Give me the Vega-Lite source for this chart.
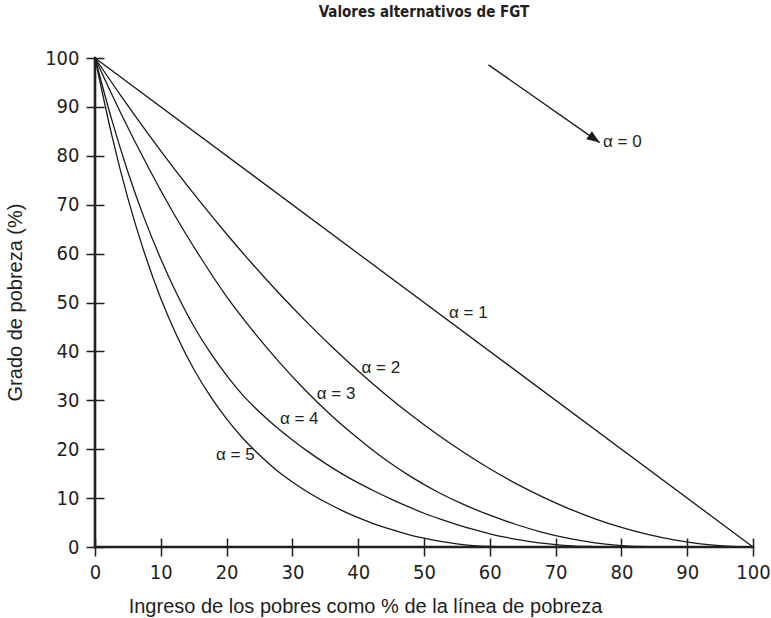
{
  "$schema": "https://vega.github.io/schema/vega-lite/v6.json",
  "width": 658,
  "height": 489,
  "autosize": {"type": "none"},
  "padding": {"left": 95, "top": 58, "right": 18, "bottom": 71},
  "background": "white",
  "title": {
    "text": "Valores alternativos de FGT",
    "font": "Liberation Sans Narrow, DejaVu Sans Condensed, sans-serif",
    "fontSize": 15,
    "fontWeight": "bold",
    "color": "#231f20",
    "anchor": "middle",
    "frame": "group",
    "offset": 28
  },
  "config": {"view": {"stroke": null}, "axis": {"grid": false}},
  "datasets": {
    "curves": [
      {"a": "1", "x": 0, "y": 100}, {"a": "1", "x": 100, "y": 0},
      {"a": "2", "x": 0, "y": 100}, {"a": "2", "x": 4, "y": 92.16}, {"a": "2", "x": 8, "y": 84.64}, {"a": "2", "x": 12, "y": 77.44}, {"a": "2", "x": 16, "y": 70.56}, {"a": "2", "x": 20, "y": 64}, {"a": "2", "x": 24, "y": 57.76}, {"a": "2", "x": 28, "y": 51.84}, {"a": "2", "x": 32, "y": 46.24}, {"a": "2", "x": 36, "y": 40.96}, {"a": "2", "x": 40, "y": 36}, {"a": "2", "x": 44, "y": 31.36}, {"a": "2", "x": 48, "y": 27.04}, {"a": "2", "x": 52, "y": 23.04}, {"a": "2", "x": 56, "y": 19.36}, {"a": "2", "x": 60, "y": 16}, {"a": "2", "x": 64, "y": 12.96}, {"a": "2", "x": 68, "y": 10.24}, {"a": "2", "x": 72, "y": 7.84}, {"a": "2", "x": 76, "y": 5.76}, {"a": "2", "x": 80, "y": 4}, {"a": "2", "x": 84, "y": 2.56}, {"a": "2", "x": 88, "y": 1.44}, {"a": "2", "x": 92, "y": 0.64}, {"a": "2", "x": 96, "y": 0.16}, {"a": "2", "x": 100, "y": 0},
      {"a": "3", "x": 0, "y": 100}, {"a": "3", "x": 4, "y": 88.5}, {"a": "3", "x": 8, "y": 77.9}, {"a": "3", "x": 12, "y": 68.1}, {"a": "3", "x": 16, "y": 59.3}, {"a": "3", "x": 20, "y": 51.2}, {"a": "3", "x": 24, "y": 44.2}, {"a": "3", "x": 28, "y": 37.8}, {"a": "3", "x": 32, "y": 32.0}, {"a": "3", "x": 36, "y": 26.8}, {"a": "3", "x": 40, "y": 22.2}, {"a": "3", "x": 44, "y": 18.0}, {"a": "3", "x": 48, "y": 14.4}, {"a": "3", "x": 52, "y": 11.3}, {"a": "3", "x": 56, "y": 8.7}, {"a": "3", "x": 60, "y": 6.5}, {"a": "3", "x": 64, "y": 4.6}, {"a": "3", "x": 68, "y": 3.0}, {"a": "3", "x": 72, "y": 1.75}, {"a": "3", "x": 76, "y": 0.85}, {"a": "3", "x": 80, "y": 0.3}, {"a": "3", "x": 84, "y": 0.06}, {"a": "3", "x": 88, "y": 0},
      {"a": "4", "x": 0, "y": 100}, {"a": "4", "x": 2.5, "y": 87.6}, {"a": "4", "x": 5, "y": 76.7}, {"a": "4", "x": 7.5, "y": 67.2}, {"a": "4", "x": 10, "y": 58.9}, {"a": "4", "x": 12.5, "y": 51.6}, {"a": "4", "x": 15, "y": 45.2}, {"a": "4", "x": 17.5, "y": 39.8}, {"a": "4", "x": 20, "y": 35.1}, {"a": "4", "x": 22.5, "y": 31.0}, {"a": "4", "x": 25, "y": 27.6}, {"a": "4", "x": 27.5, "y": 24.6}, {"a": "4", "x": 30, "y": 21.9}, {"a": "4", "x": 32.5, "y": 19.4}, {"a": "4", "x": 35, "y": 17.1}, {"a": "4", "x": 37.5, "y": 15.0}, {"a": "4", "x": 40, "y": 13.1}, {"a": "4", "x": 42.5, "y": 11.4}, {"a": "4", "x": 45, "y": 9.8}, {"a": "4", "x": 47.5, "y": 8.3}, {"a": "4", "x": 50, "y": 6.9}, {"a": "4", "x": 52.5, "y": 5.7}, {"a": "4", "x": 55, "y": 4.6}, {"a": "4", "x": 57.5, "y": 3.6}, {"a": "4", "x": 60, "y": 2.7}, {"a": "4", "x": 62.5, "y": 1.95}, {"a": "4", "x": 65, "y": 1.35}, {"a": "4", "x": 67.5, "y": 0.85}, {"a": "4", "x": 70, "y": 0.5}, {"a": "4", "x": 72.5, "y": 0.25}, {"a": "4", "x": 75, "y": 0.1}, {"a": "4", "x": 77.5, "y": 0.03}, {"a": "4", "x": 80, "y": 0},
      {"a": "5", "x": 0, "y": 100}, {"a": "5", "x": 2.5, "y": 84.5}, {"a": "5", "x": 5, "y": 71.3}, {"a": "5", "x": 7.5, "y": 60.2}, {"a": "5", "x": 10, "y": 50.8}, {"a": "5", "x": 12.5, "y": 43}, {"a": "5", "x": 15, "y": 36.4}, {"a": "5", "x": 17.5, "y": 30.9}, {"a": "5", "x": 20, "y": 26.2}, {"a": "5", "x": 22.5, "y": 22.2}, {"a": "5", "x": 25, "y": 18.8}, {"a": "5", "x": 27.5, "y": 15.8}, {"a": "5", "x": 30, "y": 13.3}, {"a": "5", "x": 32.5, "y": 11.1}, {"a": "5", "x": 35, "y": 9.2}, {"a": "5", "x": 37.5, "y": 7.5}, {"a": "5", "x": 40, "y": 6.0}, {"a": "5", "x": 42.5, "y": 4.7}, {"a": "5", "x": 45, "y": 3.6}, {"a": "5", "x": 47.5, "y": 2.6}, {"a": "5", "x": 50, "y": 1.8}, {"a": "5", "x": 52.5, "y": 1.15}, {"a": "5", "x": 55, "y": 0.65}, {"a": "5", "x": 57.5, "y": 0.3}, {"a": "5", "x": 60, "y": 0.1}, {"a": "5", "x": 62.5, "y": 0.02}, {"a": "5", "x": 65, "y": 0}
    ],
    "axislines": [
      {"x": 0, "x2": 100, "y": 0, "y2": 0},
      {"x": 0, "x2": 0, "y": 0, "y2": 100}
    ],
    "arrow": [
      {"x": 59.8, "y": 98.6, "x2": 76.7, "y2": 82.7}
    ],
    "labels": [
      {"x": 53.8, "y": 47.9, "label": "α = 1"},
      {"x": 40.5, "y": 36.7, "label": "α = 2"},
      {"x": 33.7, "y": 31.3, "label": "α = 3"},
      {"x": 28.1, "y": 26.2, "label": "α = 4"},
      {"x": 18.4, "y": 18.8, "label": "α = 5"},
      {"x": 77.2, "y": 82.9, "label": "α = 0"}
    ]
  },
  "layer": [
    {
      "data": {"name": "curves"},
      "mark": {"type": "line", "interpolate": "monotone", "color": "#1a1a1a", "strokeWidth": 1.3},
      "encoding": {
        "x": {
          "field": "x", "type": "quantitative",
          "scale": {"domain": [0, 100], "nice": false, "zero": false},
          "axis": {
            "values": [0, 10, 20, 30, 40, 50, 60, 70, 80, 90, 100],
            "title": "Ingreso de los pobres como % de la línea de pobreza",
            "domain": false, "tickSize": 18, "offset": -9, "tickWidth": 1.5, "tickColor": "#231f20",
            "labelFont": "Liberation Sans Narrow, DejaVu Sans Condensed, sans-serif", "labelFontSize": 20, "labelColor": "#231f20", "labelPadding": 6, "labelFlush": false,
            "titleFont": "Liberation Sans, sans-serif", "titleFontSize": 20, "titleFontWeight": "normal", "titleColor": "#231f20",
            "titleX": 270, "titleY": 68, "titleBaseline": "middle", "titleAlign": "center"
          }
        },
        "y": {
          "field": "y", "type": "quantitative",
          "scale": {"domain": [0, 100], "nice": false},
          "axis": {
            "values": [0, 10, 20, 30, 40, 50, 60, 70, 80, 90, 100],
            "title": "Grado de pobreza (%)",
            "domain": false, "tickSize": 18, "offset": -9, "tickWidth": 1.5, "tickColor": "#231f20",
            "labelFont": "Liberation Sans Narrow, DejaVu Sans Condensed, sans-serif", "labelFontSize": 20, "labelColor": "#231f20", "labelPadding": 7, "labelFlush": false,
            "titleFont": "Liberation Sans, sans-serif", "titleFontSize": 20, "titleFontWeight": "normal", "titleColor": "#231f20",
            "titleX": -89, "titleY": 244, "titleBaseline": "middle", "titleAlign": "center", "titleAngle": -90
          }
        },
        "detail": {"field": "a"}
      }
    },
    {
      "data": {"name": "axislines"},
      "mark": {"type": "rule", "color": "#231f20", "strokeWidth": 2.6, "strokeCap": "square"},
      "encoding": {
        "x": {"field": "x", "type": "quantitative"},
        "x2": {"field": "x2"},
        "y": {"field": "y", "type": "quantitative"},
        "y2": {"field": "y2"}
      }
    },
    {
      "data": {"name": "arrow"},
      "mark": {"type": "rule", "color": "#1a1a1a", "strokeWidth": 1.3},
      "encoding": {
        "x": {"field": "x", "type": "quantitative"},
        "x2": {"field": "x2"},
        "y": {"field": "y", "type": "quantitative"},
        "y2": {"field": "y2"}
      }
    },
    {
      "data": {"name": "arrow"},
      "mark": {"type": "point", "shape": "M0,0L-2,-0.75L-2,0.75Z", "filled": true, "size": 169, "angle": 35, "color": "#1a1a1a", "opacity": 1},
      "encoding": {
        "x": {"field": "x2", "type": "quantitative"},
        "y": {"field": "y2", "type": "quantitative"}
      }
    },
    {
      "data": {"name": "labels"},
      "mark": {"type": "text", "align": "left", "baseline": "middle", "font": "Liberation Sans, sans-serif", "fontSize": 17, "color": "#231f20"},
      "encoding": {
        "x": {"field": "x", "type": "quantitative"},
        "y": {"field": "y", "type": "quantitative"},
        "text": {"field": "label"}
      }
    }
  ]
}
